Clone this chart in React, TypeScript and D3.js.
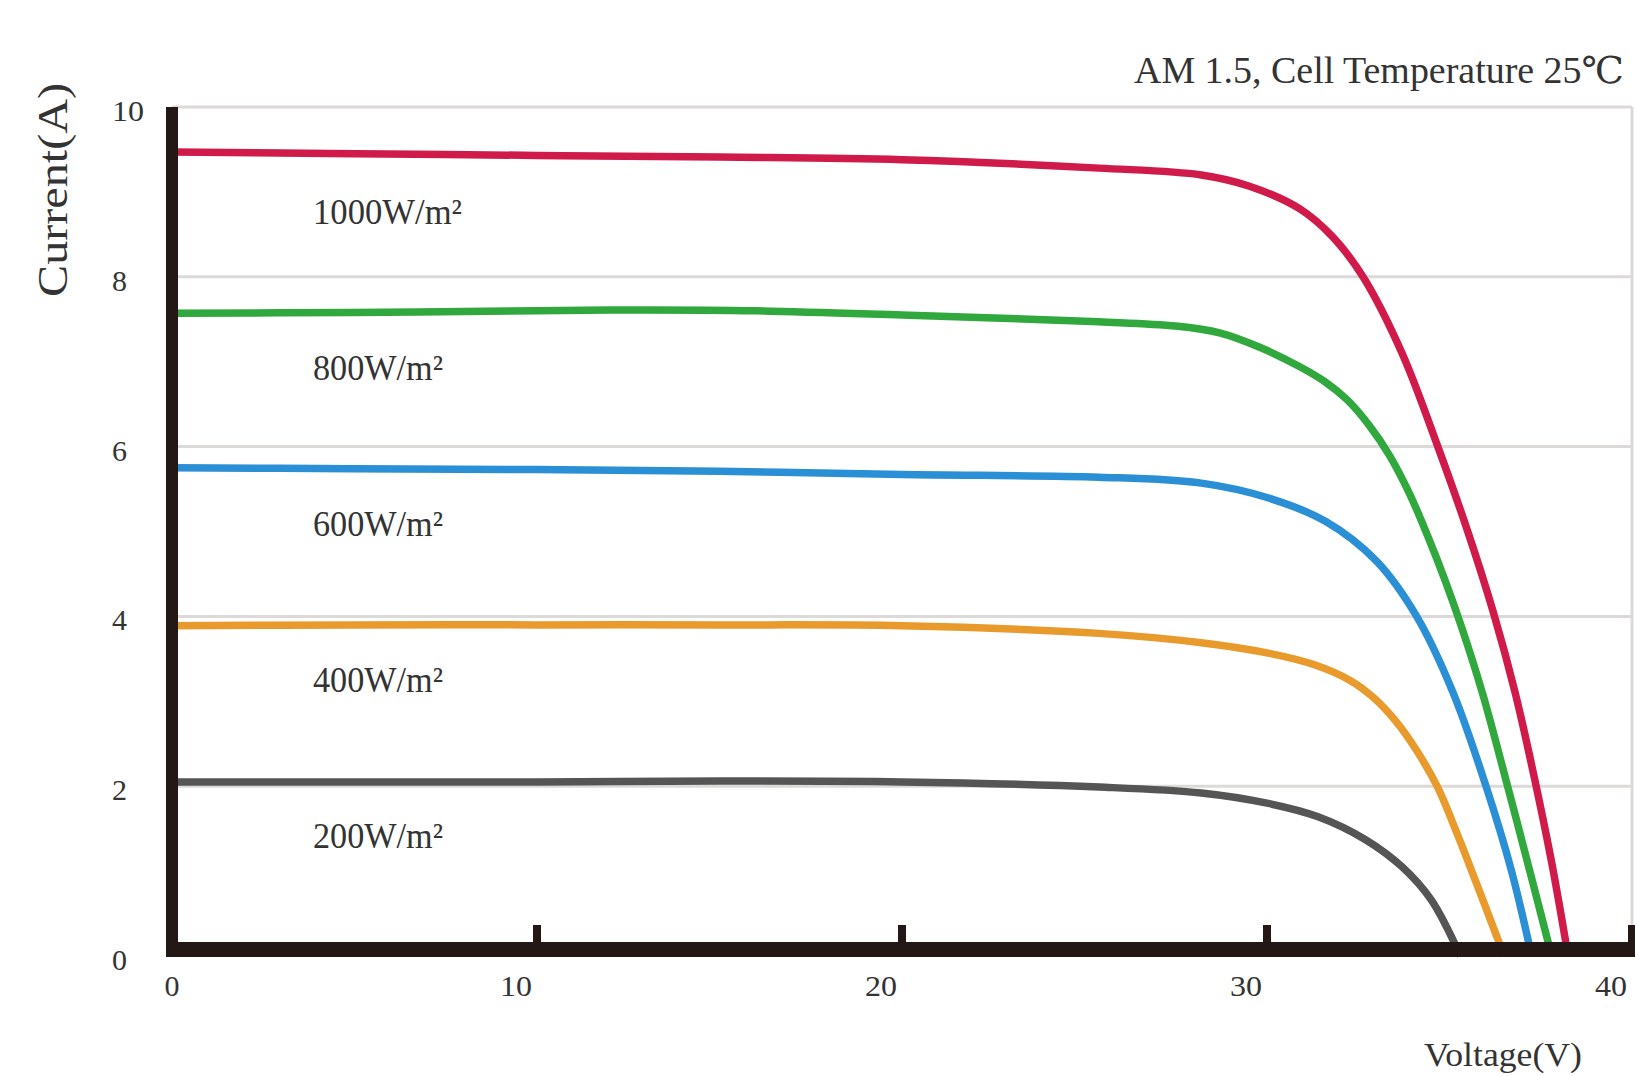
import React from "react";
import * as d3 from "d3";

const W = 1635;
const H = 1076;

const xTicks = [0, 10, 20, 30, 40];
const yTicks = [0, 2, 4, 6, 8, 10];

const v1000 = [0, 5, 10, 15, 20, 25.4, 28.2, 29.5, 30.9, 31.8, 32.63, 33.7, 34.68, 35.5, 36.2, 36.8, 37.3, 37.8, 38.25];
const i1000 = [9.47, 9.45, 9.43, 9.41, 9.38, 9.28, 9.2, 9.07, 8.8, 8.47, 8.0, 7.1, 6.0, 5.0, 4.05, 3.1, 2.15, 1.1, 0];

const v800 = [0, 5, 10, 13, 16, 20, 25.4, 27.5, 28.7, 29.8, 30.9, 31.6, 32.2, 32.8, 33.35, 33.9, 34.4, 34.9, 35.35, 35.9, 36.5, 37.2, 37.8];
const i800 = [7.57, 7.58, 7.6, 7.61, 7.6, 7.55, 7.47, 7.42, 7.34, 7.17, 6.94, 6.76, 6.55, 6.25, 5.9, 5.45, 4.95, 4.4, 3.85, 3.1, 2.15, 1.0, 0];

const v600 = [0, 5, 10, 15, 20, 25.4, 28.2, 30.0, 31.6, 33.0, 34.1, 35.1, 36.0, 36.7, 37.25];
const i600 = [5.75, 5.74, 5.73, 5.71, 5.67, 5.64, 5.57, 5.4, 5.12, 4.65, 4.0, 3.1, 2.0, 1.0, 0];

const v400 = [0, 5, 10, 15, 20, 25.4, 28.2, 30.0, 31.3, 32.3, 32.9, 33.5, 34.1, 34.66, 35.2, 35.7, 36.1, 36.5];
const i400 = [3.89, 3.9, 3.9, 3.9, 3.89, 3.8, 3.69, 3.57, 3.43, 3.24, 3.05, 2.78, 2.42, 2.0, 1.45, 0.9, 0.45, 0];

const v200 = [0, 5, 10, 15, 20, 25.4, 28.2, 30.0, 31.4, 32.7, 33.7, 34.5, 35.3];
const i200 = [2.05, 2.05, 2.05, 2.06, 2.05, 1.99, 1.92, 1.8, 1.64, 1.37, 1.05, 0.66, 0];

const seriesNames = ["1000W/m²", "800W/m²", "600W/m²", "400W/m²", "200W/m²"];
const seriesColors = ["#cf1a4a", "#30a83e", "#2b8fd6", "#e89b2c", "#555555"];
const seriesV = [v1000, v800, v600, v400, v200];
const seriesI = [i1000, i800, i600, i400, i200];

const TITLE = "AM 1.5, Cell Temperature 25℃";
const X_TITLE = "Voltage(V)";
const Y_TITLE = "Current(A)";

export default function App() {
  const x = d3.scaleLinear().domain([0, 40]).range([172, 1632]);
  const y = d3.scaleLinear().domain([0, 10]).range([956, 107]);
  const line = d3
    .line<[number, number]>()
    .x((d) => x(d[0]))
    .y((d) => y(d[1]))
    .curve(d3.curveCatmullRom.alpha(0.5));

  const textColor = "#333";
  const serif = "'Liberation Serif', 'DejaVu Serif', serif";

  const axisTop = 942;
  const axisBottom = 957;

  return (
    <svg
      width={W}
      height={H}
      style={{ position: "absolute", left: 0, top: 0, background: "#fff" }}
    >
      <rect x={0} y={0} width={W} height={H} fill="#fff" />
      {yTicks
        .filter((t) => t > 0)
        .map((t) => (
          <line
            key={"g" + t}
            x1={x(0)}
            x2={x(40)}
            y1={y(t)}
            y2={y(t)}
            stroke="#dcdad8"
            strokeWidth={3}
          />
        ))}
      <line x1={x(40)} x2={x(40)} y1={y(10)} y2={axisTop} stroke="#dcdad8" strokeWidth={3} />

      {seriesV.map((vs, k) => (
        <path
          key={"s" + k}
          d={line(vs.map((v, j) => [v, seriesI[k][j]] as [number, number])) || ""}
          fill="none"
          stroke={seriesColors[k]}
          strokeWidth={7.5}
          strokeLinecap="butt"
          strokeLinejoin="round"
        />
      ))}

      {seriesNames.map((n, k) => (
        <text
          key={"l" + k}
          x={313}
          y={224 + k * 156}
          fontFamily={serif}
          fontSize={36}
          fill={textColor}
          textLength={k === 0 ? 149 : 130}
          lengthAdjust="spacingAndGlyphs"
        >
          {n}
        </text>
      ))}

      <rect x={166} y={y(10)} width={12} height={axisBottom - y(10)} fill="#231815" />
      <rect x={166} y={axisTop} width={W - 166} height={axisBottom - axisTop} fill="#231815" />
      {xTicks
        .filter((t) => t > 0)
        .map((t) => (
          <rect key={"t" + t} x={x(t) - 4} y={axisTop - 17} width={8} height={18} fill="#231815" />
        ))}

      {xTicks.map((t) => (
        <text
          key={"xl" + t}
          x={t === 0 ? x(t) : x(t) - 21}
          y={996}
          textAnchor="middle"
          fontFamily={serif}
          fontSize={30}
          fill={textColor}
          textLength={t === 0 ? 15 : 32}
          lengthAdjust="spacingAndGlyphs"
        >
          {t}
        </text>
      ))}
      {yTicks.map((t) => (
        <text
          key={"yl" + t}
          x={112}
          y={y(t) + 14}
          textAnchor="start"
          fontFamily={serif}
          fontSize={30}
          fill={textColor}
          textLength={t === 10 ? 32 : 15}
          lengthAdjust="spacingAndGlyphs"
        >
          {t}
        </text>
      ))}

      <text
        x={1134}
        y={83}
        fontFamily={serif}
        fontSize={37}
        fill={textColor}
        textLength={490}
        lengthAdjust="spacingAndGlyphs"
      >
        {TITLE}
      </text>
      <text
        x={1424}
        y={1066}
        fontFamily={serif}
        fontSize={34}
        fill={textColor}
        textLength={158}
        lengthAdjust="spacingAndGlyphs"
      >
        {X_TITLE}
      </text>
      <text
        transform={`translate(67, ${190}) rotate(-90)`}
        textAnchor="middle"
        fontFamily={serif}
        fontSize={42}
        fill={textColor}
        textLength={214}
        lengthAdjust="spacingAndGlyphs"
      >
        {Y_TITLE}
      </text>
    </svg>
  );
}
